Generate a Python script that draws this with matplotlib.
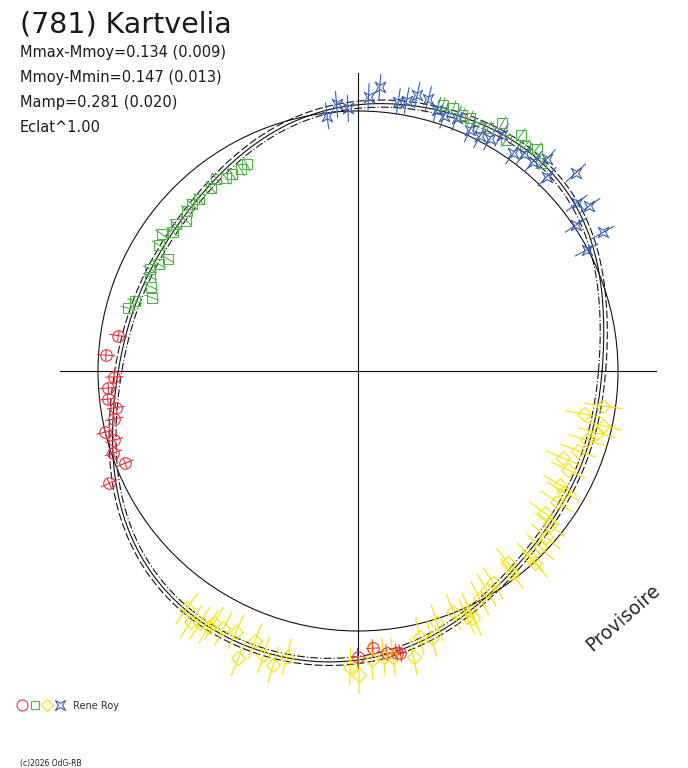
"""Polar light curve of (781) Kartvelia, redrawn with matplotlib."""

import numpy as np
import matplotlib

matplotlib.use("Agg")
import matplotlib.pyplot as plt
from matplotlib.path import Path
from matplotlib.collections import LineCollection

W, H = 688, 768
CX, CY = 358, 371          # pole of the diagram (pixels from top-left)
R_REF = 260                # reference circle = mean magnitude
MAG_PX = 224               # pixels per magnitude
AXIS_HALF = 298
FIT_ORDER = 6              # Fourier order used to draw the light curve

# light curve: phase (deg) and magnitude offset from the reference circle
CURVE_PHASE = [0, 10, 20, 30, 40, 50, 60, 70, 80, 90, 100, 110,
               120, 130, 140, 150, 160, 170, 180, 190, 200, 210, 220, 230,
               240, 250, 260, 270, 280, 290, 300, 310, 320, 330, 340, 350]
CURVE_DM = [-0.062, -0.049, -0.018, 0.036, 0.076, 0.080, 0.067, 0.058, 0.054, 0.031, 0.000, -0.036,
            -0.071, -0.098, -0.121, -0.134, -0.134, -0.112, -0.080, -0.058, -0.004, 0.066, 0.112, 0.143,
            0.161, 0.165, 0.152, 0.129, 0.094, 0.045, -0.004, -0.040, -0.062, -0.076, -0.085, -0.080]
CURVE_SPREAD = 0.016

RED_PHASE = [171.6, 176.4, 181.4, 183.9, 186.4, 188.6, 191.1, 193.6, 195.8, 198.5, 201.6, 204.3,
             269.9, 273.0, 275.8, 277.8, 278.5]
RED_DM = [-0.079, -0.033, -0.072, -0.043, -0.036, -0.067, -0.052, 0.001, -0.030, -0.009, -0.042, 0.058,
          0.115, 0.079, 0.106, 0.108, 0.113]

GREEN_PHASE = [48.7, 51.2, 53.4, 55.4, 57.4, 59.8, 61.9, 63.8, 66.1, 67.8, 70.1, 72.3,
               118.3, 120.2, 122.6, 124.4, 126.4, 128.7, 132.8, 134.9, 136.9, 138.8, 141.2, 143.1,
               145.1, 147.7, 149.5, 151.8, 153.9, 155.6, 157.9, 160.4, 162.6, 164.7]
GREEN_DM = [0.076, 0.113, 0.090, 0.119, 0.064, 0.119, 0.068, 0.051, 0.076, 0.073, 0.087, 0.086,
            -0.112, -0.119, -0.117, -0.116, -0.096, -0.112, -0.116, -0.111, -0.114, -0.141, -0.116, -0.126,
            -0.092, -0.108, -0.174, -0.151, -0.126, -0.141, -0.162, -0.183, -0.117, -0.098]

YELLOW_PHASE = [234.2, 236.3, 237.9, 239.7, 240.3, 242.4, 244.9, 247.4, 249.1, 251.6, 253.9, 256.0,
                268.5, 270.2, 272.7, 275.1, 277.0, 281.0, 283.1, 285.4, 287.4, 291.6, 293.9, 295.0,
                295.1, 298.2, 300.4, 302.5, 307.2, 308.0, 312.6, 312.8, 316.0, 318.6, 321.3, 322.7,
                326.7, 329.6, 330.6, 334.8, 337.0, 340.1, 343.2, 345.5, 347.4, 349.2, 351.9]
YELLOW_DM = [0.146, 0.185, 0.168, 0.162, 0.136, 0.136, 0.124, 0.229, 0.128, 0.176, 0.205, 0.154,
             0.160, 0.196, 0.131, 0.120, 0.125, 0.138, 0.057, 0.077, 0.017, -0.005, 0.039, 0.058,
             0.017, -0.009, -0.027, -0.037, -0.026, -0.071, 0.006, -0.031, -0.031, -0.042, -0.062, -0.112,
             -0.099, -0.097, -0.125, -0.123, -0.165, -0.115, -0.094, -0.060, -0.038, -0.133, -0.054]

BLUE_PHASE = [27.9, 29.5, 33.8, 35.5, 37.5, 42.3, 45.8, 48.3, 50.1, 52.6, 54.5, 58.7, 60.4, 62.6,
              65.1, 68.7, 71.4, 73.2, 75.5, 77.9, 79.8, 81.5, 85.6, 87.8, 92.2, 94.6, 96.9]
BLUE_DM = [-0.006, 0.095, 0.011, 0.108, 0.070, 0.155, 0.049, 0.105, 0.058, 0.059, 0.033, 0.073, 0.033, 0.021,
           0.025, 0.050, 0.042, 0.056, 0.092, 0.100, 0.066, 0.055, 0.109, 0.065, 0.013, 0.033, -0.013]

# magnitude error (radial bar) and phase error (deg, tangential bar) per observer night
ERR_MAG = {"red": 0.04, "green": 0.035, "yellow": 0.085, "blue": 0.06}
ERR_PHASE = {"red": 1.3, "green": 0.0, "yellow": 0.0, "blue": 0.0}

STATS = ["Mmax-Mmoy=0.134 (0.009)", "Mmoy-Mmin=0.147 (0.013)", "Mamp=0.281 (0.020)", "Eclat^1.00"]

COLORS = {"red": "#e8323a", "green": "#4fb446", "yellow": "#f5e400", "blue": "#3b5cb0"}

star = Path([(1, 1), (0, 0.42), (-1, 1), (-0.42, 0), (-1, -1), (0, -0.42), (1, -1), (0.42, 0), (1, 1)],
            [Path.MOVETO] + [Path.LINETO] * 7 + [Path.CLOSEPOLY])
MARKERS = {"red": ("o", 8.3), "green": ("s", 6.8), "yellow": ("D", 6.8), "blue": (star, 7.6)}


def to_xy(phase, dm):
    t = np.radians(np.asarray(phase, float))
    r = R_REF + MAG_PX * np.asarray(dm, float)
    return r * np.cos(t), r * np.sin(t)


def px(x, y):
    return x / W, 1 - y / H


def fourier_fit(phase, mags, order):
    """Least-squares Fourier series through the light-curve readings."""
    t = np.radians(np.asarray(phase, float))

    def design(tt):
        cols = [np.ones_like(tt)]
        for k in range(1, order + 1):
            cols += [np.cos(k * tt), np.sin(k * tt)]
        return np.column_stack(cols)

    coef, *_ = np.linalg.lstsq(design(t), np.asarray(mags, float), rcond=None)
    grid = np.linspace(0, 360, 721)
    return grid, design(np.radians(grid)) @ coef


fig = plt.figure(figsize=(W / 100, H / 100), dpi=100)
ax = fig.add_axes([0, 0, 1, 1])
ax.set_xlim(-CX, W - CX)
ax.set_ylim(-(H - CY), CY)
ax.axis("off")

# cross and reference circle
ax.plot([-AXIS_HALF, AXIS_HALF], [0, 0], color="#111", lw=0.8)
ax.plot([0, 0], [-AXIS_HALF, AXIS_HALF], color="#111", lw=0.8)
ax.add_patch(plt.Circle((0, 0), R_REF, fill=False, color="#111", lw=0.8))

# fitted curve and its envelope
ph, dm = fourier_fit(CURVE_PHASE, CURVE_DM, FIT_ORDER)
ax.plot(*to_xy(ph, dm), color="#111", lw=0.8)
ax.plot(*to_xy(ph, dm + CURVE_SPREAD), color="#111", lw=0.8, ls=(0, (7, 2.5)))
ax.plot(*to_xy(ph, dm - CURVE_SPREAD), color="#111", lw=0.8, ls=(0, (7, 2, 1, 2)))

groups = [("red", RED_PHASE, RED_DM), ("green", GREEN_PHASE, GREEN_DM),
          ("yellow", YELLOW_PHASE, YELLOW_DM), ("blue", BLUE_PHASE, BLUE_DM)]
for name, phase, mags in groups:
    phase = np.array(phase)
    mags = np.array(mags)
    c = COLORS[name]
    lo = to_xy(phase, mags - ERR_MAG[name])
    hi = to_xy(phase, mags + ERR_MAG[name])
    segs = [[(lo[0][i], lo[1][i]), (hi[0][i], hi[1][i])] for i in range(len(phase))]
    if ERR_PHASE[name] > 0:
        a = to_xy(phase - ERR_PHASE[name], mags)
        b = to_xy(phase + ERR_PHASE[name], mags)
        segs += [[(a[0][i], a[1][i]), (b[0][i], b[1][i])] for i in range(len(phase))]
    ax.add_collection(LineCollection(segs, colors=c, linewidths=0.8, zorder=4))
    mk, ms = MARKERS[name]
    x, y = to_xy(phase, mags)
    ax.plot(x, y, ls="none", marker=mk, ms=ms, mfc="none", mec=c, mew=0.8, zorder=5)

# header text
fig.text(*px(20, 32), "(781) Kartvelia", fontsize=20.5, color="#1a1a1a", va="baseline")
for i, line in enumerate(STATS):
    fig.text(*px(20, 57 + 25 * i), line, fontsize=10.5, color="#1a1a1a", va="baseline")

fig.text(*px(623, 618), "Provisoire", fontsize=13.5, color="#2a2a2a", rotation=41,
         ha="center", va="center", rotation_mode="anchor")

# observer legend
for i, name in enumerate(["red", "green", "yellow", "blue"]):
    mk, ms = MARKERS[name]
    lx, ly = px(22 + 12.7 * i, 705)
    fig.lines.append(plt.Line2D([lx], [ly], transform=fig.transFigure, ls="none", marker=mk,
                                ms=ms * 0.95, mfc="none", mec=COLORS[name], mew=0.8))
fig.text(*px(73, 709), "Rene Roy", fontsize=7, color="#333", va="baseline")
fig.text(*px(20, 766), "(c)2026 OdG-RB", fontsize=5.5, color="#222", va="baseline")

fig.savefig("out.png", dpi=100)
